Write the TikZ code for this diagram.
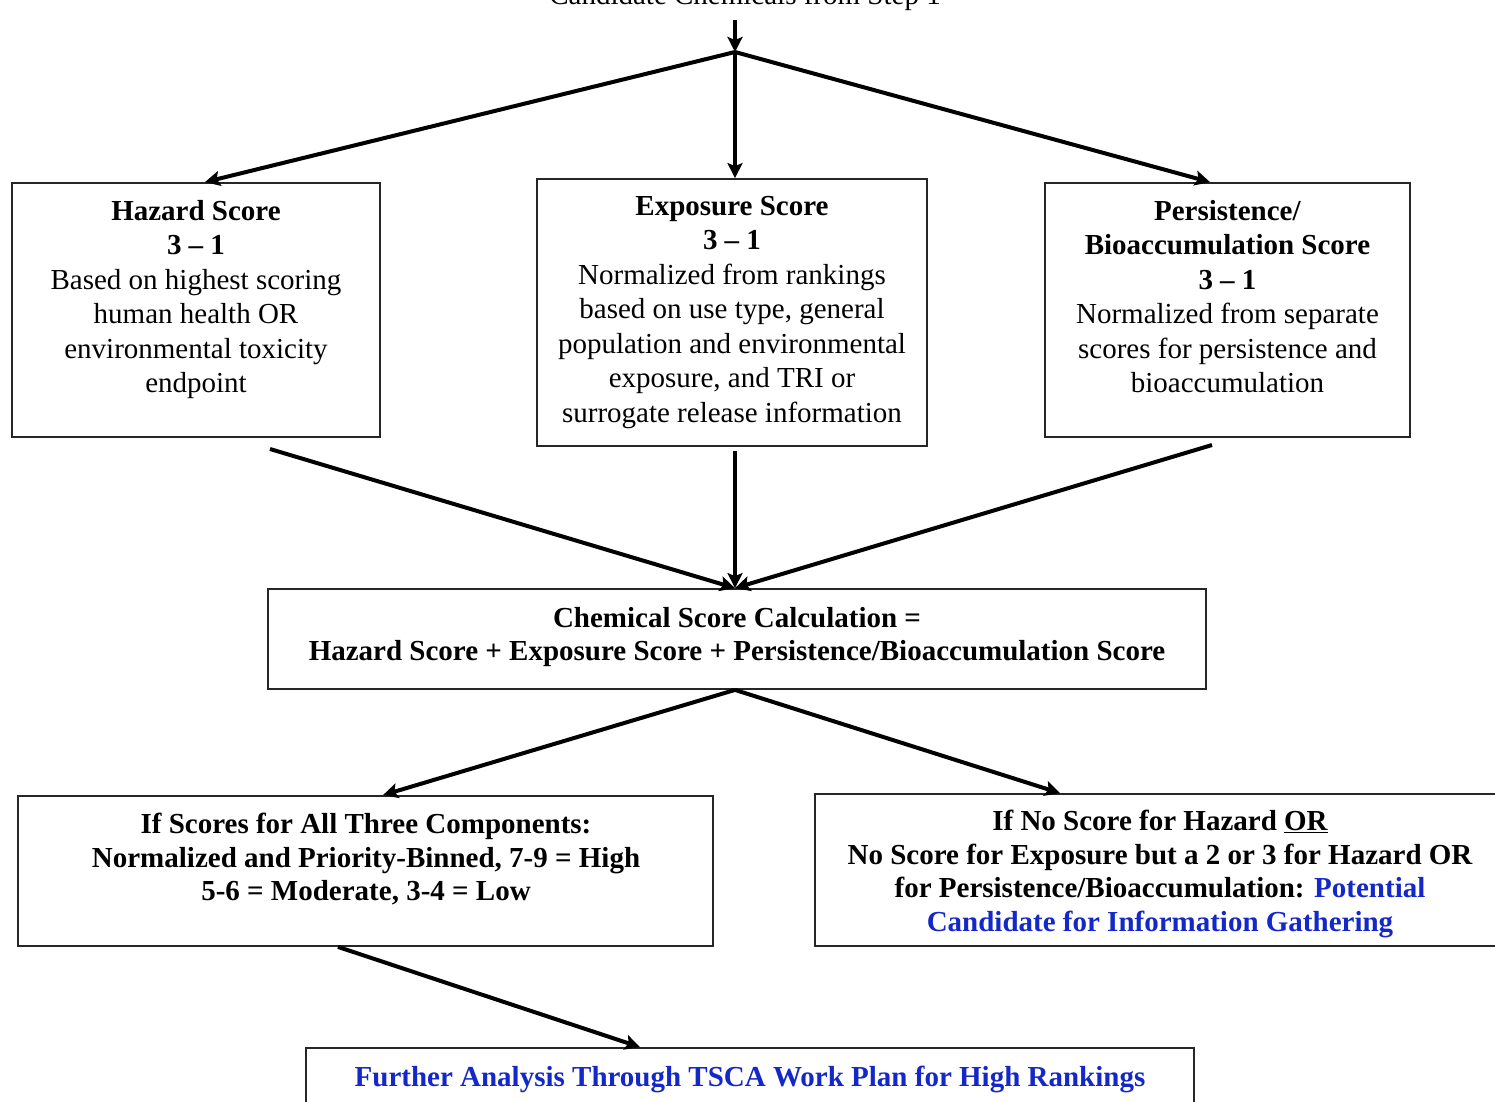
\documentclass[tikz,border=0pt]{standalone}
\usepackage{fontspec}
\setmainfont{Liberation Serif}
\usetikzlibrary{arrows.meta}
\definecolor{linkblue}{RGB}{20,40,200}
\tikzset{
  box/.style={draw=black!85, line width=1.8pt, inner sep=0pt},
  txt/.style={anchor=north, align=center, inner sep=0pt, font=\fontsize{29}{34.5}\selectfont},
  btxt/.style={anchor=north, align=center, inner sep=0pt, font=\fontsize{29}{33.5}\selectfont\bfseries},
  arr/.style={line width=4pt, -{Stealth[length=15pt,width=15pt,inset=3pt]}},
  ln/.style={line width=4pt}
}
\begin{document}
\begin{tikzpicture}[x=1pt,y=-1pt]
\useasboundingbox (0,0) rectangle (1495,1101);
% top text
\node[anchor=base, inner sep=0pt, font=\fontsize{29}{34.5}\selectfont] (top) at (745,4) {Candidate Chemicals from Step 1};
\coordinate (j1) at (735,52);
\coordinate (t0) at (735,20);
% boxes
\node[box, minimum width=368pt, minimum height=254pt] (haz) at (196,310) {};
\node[box, minimum width=390pt, minimum height=267pt] (exp) at (732,312.5) {};
\node[box, minimum width=365pt, minimum height=254pt] (per) at (1227.5,310) {};
\node[box, minimum width=938pt, minimum height=100pt] (calc) at (737,639) {};
\node[box, minimum width=695pt, minimum height=150pt] (lb) at (365.5,871) {};
\node[box, minimum width=690pt, minimum height=152pt] (rb) at (1160,870) {};
\node[box, minimum width=888pt, minimum height=120pt] (fin) at (750,1108) {};
% texts
\node[txt] (hazt) at (196,200) {\textbf{Hazard Score}\\\textbf{3 – 1}\\Based on highest scoring\\human health OR\\environmental toxicity\\endpoint};
\node[txt] (expt) at (732,196) {\textbf{Exposure Score}\\\textbf{3 – 1}\\Normalized from rankings\\based on use type, general\\population and environmental\\exposure, and TRI or\\surrogate release information};
\node[txt] (pert) at (1227.5,200) {\textbf{Persistence/}\\\textbf{Bioaccumulation Score}\\\textbf{3 – 1}\\Normalized from separate\\scores for persistence and\\bioaccumulation};
\node[btxt] (calct) at (737,607) {Chemical Score Calculation =\\Hazard Score + Exposure Score + Persistence/Bioaccumulation Score};
\node[btxt] (lbt) at (366,813) {If Scores for All Three Components:\\Normalized and Priority-Binned, 7-9 = High\\5-6 = Moderate, 3-4 = Low};
\node[btxt] (rbt) at (1160,810) {If No Score for Hazard \underline{OR}\\No Score for Exposure but a 2 or 3 for Hazard OR\\for Persistence/Bioaccumulation: \textcolor{linkblue}{Potential}\\\textcolor{linkblue}{Candidate for Information Gathering}};
\node[btxt, text=linkblue] (fint) at (750,1066) {Further Analysis Through TSCA Work Plan for High Rankings};
% connectors
\draw[arr] (t0) -- (j1);
\draw[ln] (j1) -- (735,56);
\draw[arr] (j1) -- (haz.north -| 205,0);
\draw[arr] (j1) -- (exp.north -| 735,0);
\draw[arr] (j1) -- (per.north -| 1210,0);
\coordinate (ca) at (735,589);
\draw[arr] (270,449) -- (calc.north -| ca);
\draw[arr] (exp.south -| 735,0) ++(0,4) -- (calc.north -| ca);
\draw[arr] (1212,445) -- (calc.north -| ca);
\draw[arr] (calc.south -| 735,0) -- (lb.north -| 383,0);
\draw[arr] (calc.south -| 735,0) -- (rb.north -| 1060,0);
\draw[arr] (lb.south -| 338,0) -- (fin.north -| 640,0);
\end{tikzpicture}
\end{document}
